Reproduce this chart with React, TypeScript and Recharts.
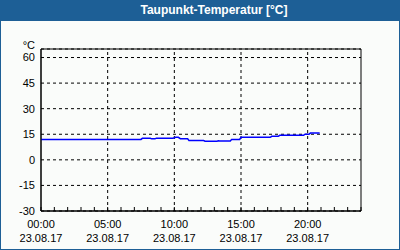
import {
  LineChart,
  Line,
  XAxis,
  YAxis,
  CartesianGrid,
  ReferenceLine,
  ReferenceArea,
} from 'recharts';

const TITLE = 'Taupunkt-Temperatur [°C]';
const UNIT = '°C';

// hours since 00:00 on 23.08.17
const HOURS = [
  0, 7.5, 7.6, 8.2, 8.3, 8.55, 8.65, 9.9, 10.1, 10.3, 10.45, 11.0, 11.1,
  12.2, 12.3, 13.2, 13.3, 13.4, 14.2, 14.3, 14.9, 15.0, 17.2, 17.3, 17.8,
  17.9, 19.7, 19.8, 20.1, 20.2, 20.9,
];
const DEW_POINT = [
  12.0, 12.0, 12.6, 12.6, 12.3, 12.3, 12.7, 12.7, 13.2, 13.2, 12.4, 12.4,
  11.3, 11.3, 10.9, 10.9, 11.2, 11.0, 11.0, 12.0, 12.0, 13.2, 13.2, 13.8,
  13.8, 14.4, 14.4, 15.0, 15.0, 15.7, 15.7,
];

const X_TICKS = [
  0, 1, 2, 3, 4, 5, 6, 7, 8, 9, 10, 11, 12, 13, 14, 15, 16, 17, 18, 19, 20,
  21, 22, 23, 24,
];
const LABEL_HOURS = [0, 5, 10, 15, 20];
const TIME_LABELS = ['00:00', '05:00', '10:00', '15:00', '20:00'];
const DATE_LABEL = '23.08.17';
const GRID_HOURS = [5, 10, 15, 20];
const Y_TICKS = [-30, -15, 0, 15, 30, 45, 60];

const data = HOURS.map((h, i) => ({ h, v: DEW_POINT[i] }));

const FONT = '"Liberation Sans", Arial, sans-serif';
const BLUE = '#1d5f96';

const HourTick = (props: any) => {
  const { x, y, payload } = props;
  const idx = LABEL_HOURS.indexOf(payload.value);
  return (
    <g>
      <line x1={x} y1={y} x2={x} y2={y - 4} stroke="#000" />
      {idx >= 0 && (
        <>
          <text x={x} y={y + 17} textAnchor="middle" fontSize={11} fontFamily={FONT} fill="#000">
            {TIME_LABELS[idx]}
          </text>
          <text x={x} y={y + 31} textAnchor="middle" fontSize={11} fontFamily={FONT} fill="#000">
            {DATE_LABEL}
          </text>
        </>
      )}
    </g>
  );
};

export default function App() {
  return (
    <div
      style={{
        position: 'absolute',
        left: 0,
        top: 0,
        width: 400,
        height: 250,
        boxSizing: 'border-box',
        background: '#fafcfa',
        border: `1px solid ${BLUE}`,
        borderTop: 'none',
      }}
    >
      <div
        style={{
          position: 'absolute',
          left: -1,
          top: 0,
          width: 400,
          height: 21,
          background: BLUE,
          color: '#fff',
          fontFamily: FONT,
          fontWeight: 'bold',
          fontSize: 12,
          lineHeight: '21px',
          textAlign: 'center',
          paddingLeft: 28,
          boxSizing: 'border-box',
        }}
      >
        {TITLE}
      </div>
      <div style={{ position: 'absolute', left: -1, top: 0 }}>
        <LineChart
          width={400}
          height={250}
          data={data}
          margin={{ top: 49, right: 39, left: 0, bottom: 0 }}
        >
          <CartesianGrid vertical={false} stroke="#000" strokeDasharray="3 3" />
          {GRID_HOURS.map((h) => (
            <ReferenceLine key={h} x={h} stroke="#000" strokeDasharray="3 3" />
          ))}
          <ReferenceArea
            x1={0}
            x2={24}
            y1={-30}
            y2={65}
            fill="none"
            fillOpacity={0}
            stroke="#000"
            strokeOpacity={1}
          />
          <XAxis
            dataKey="h"
            type="number"
            domain={[0, 24]}
            ticks={X_TICKS}
            interval={0}
            height={39}
            tickLine={false}
            tickSize={0}
            tickMargin={0}
            axisLine={{ stroke: '#000' }}
            tick={<HourTick />}
          />
          <YAxis
            type="number"
            domain={[-30, 65]}
            ticks={Y_TICKS}
            interval={0}
            width={41}
            tickLine={false}
            tickSize={0}
            tickMargin={6}
            axisLine={{ stroke: '#000' }}
            tick={{ fill: '#000', fontSize: 11, fontFamily: FONT }}
            label={{
              content: (p: any) => (
                <text
                  x={p.viewBox.x + p.viewBox.width - 6}
                  y={p.viewBox.y}
                  textAnchor="end"
                  fontSize={11}
                  fontFamily={FONT}
                  fill="#000"
                >
                  {UNIT}
                </text>
              ),
            }}
          />
          <Line
            type="linear"
            dataKey="v"
            stroke="#0000ff"
            strokeWidth={1.5}
            dot={false}
            isAnimationActive={false}
          />
        </LineChart>
      </div>
    </div>
  );
}
